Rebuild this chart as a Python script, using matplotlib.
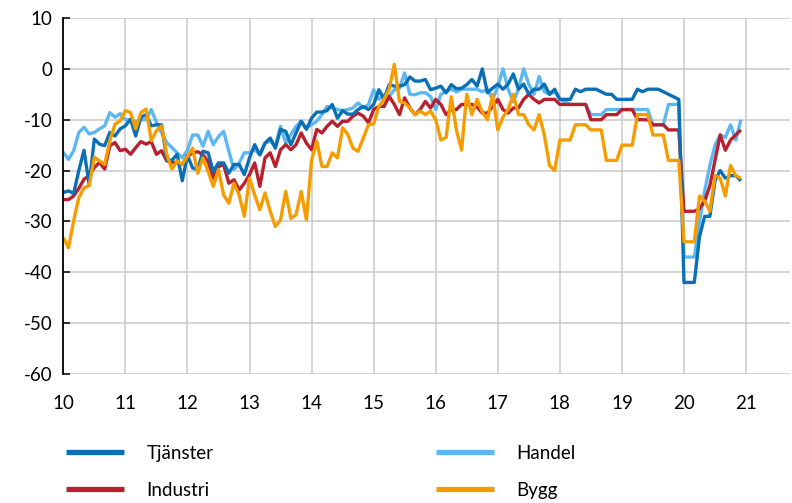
import matplotlib
matplotlib.use("Agg")
import matplotlib.pyplot as plt
import numpy as np

plt.rcParams['font.family'] = ['Lato', 'DejaVu Sans']

# Monthly values, Jan 2010 - Dec 2020
tjanster = [
    -24.3, -24, -24.5, -20, -16, -22.7, -13.8, -14.8, -15.1, -12.5, -13.2, -11.8,
    -11.2, -9.9, -13.2, -9.5, -9, -11.2, -11, -11, -17.8, -18, -16.8, -22,
    -17, -19.5, -19.8, -16.2, -16.5, -20.2, -18.5, -18.5, -20.5, -18.8, -18.8, -20.8,
    -17.5, -14.9, -16.9, -14.6, -13.6, -15.6, -11.9, -12.3, -14.9, -12.6, -10.3, -11.9,
    -9.7, -8.5, -8.5, -8.2, -7, -9.7, -8.2, -8.9, -8.9, -8, -7.4, -8,
    -7, -4.1, -6, -3.1, -3.4, -3.4, -3.1, -1.6, -2.4, -2.4, -2.1, -4.1,
    -3.8, -3.4, -4.7, -3.1, -3.9, -3.8, -3.1, -2.1, -3.4, 0, -4.7, -3.8,
    -3, -4, -3, -1, -4, -3, -5, -4, -4, -3, -5, -4,
    -6, -6, -6, -4, -4.5, -4, -4, -4, -4.5, -5, -5, -6,
    -6, -6, -6, -4, -4.5, -4, -4, -4, -4.5, -5, -5.5, -6,
    -42, -42, -42, -33, -29, -29, -22, -20, -21.5, -21, -21, -22,
]
handel = [
    -16.4, -17.8, -16.1, -12.5, -11.5, -12.8, -12.5, -11.8, -11.2, -8.6, -9.5, -8.8,
    -10, -10, -10.5, -10, -10, -8, -10.5, -12.5, -14.5, -15.5, -16.5, -17.5,
    -16, -13, -13, -15.2, -12.3, -14.9, -13.3, -12.3, -16.2, -19.8, -18.5, -16.5,
    -16.5, -15.9, -16.9, -14.6, -14.2, -15.2, -11.3, -14.6, -12.9, -11.3, -10.3, -11.6,
    -11, -10.3, -9, -7.4, -7.7, -8, -8.2, -8, -7.7, -6.7, -7.7, -7,
    -4.1, -6, -5.1, -5.4, -4.1, -3.8, -0.8, -5, -5.1, -4.7, -4.7, -5.4,
    -8, -5, -4.5, -4, -4.5, -4, -4, -4, -4, -4.5, -4, -6,
    -3.5, 0, -4, -6.5, -4, 0, -3, -5, -1.5, -4.5, -5, -4.5,
    -6, -6.5, -7, -7, -7, -7, -9, -9, -9, -8, -8, -8,
    -8, -8, -8, -8, -8, -8, -11, -11, -11, -7, -7, -7,
    -37, -37, -37, -30, -24, -19, -15, -13, -13.5, -11, -14, -10,
]
industri = [
    -25.7, -25.7, -25, -23.5, -21.7, -21, -19.4, -18.4, -19.7, -15.1, -14.5, -16.1,
    -15.8, -16.8, -15.5, -14.3, -14.8, -14.3, -16.8, -16.1, -18.1, -18.4, -18.4, -18.8,
    -17.2, -16.5, -16.3, -16.9, -18.2, -21.5, -19.2, -18.8, -22.5, -21.8, -23.8, -22.5,
    -20.8, -18.5, -23.1, -17.5, -16.5, -19.2, -15.9, -14.9, -15.9, -14.9, -12.6, -14.6,
    -15.9, -11.9, -12.6, -11.3, -10.3, -11.3, -10.3, -10.3, -9.3, -8.7, -9.3, -10.6,
    -8, -7.4, -7.4, -5.4, -7, -9, -5.7, -7.7, -9, -8, -6.4, -7.7,
    -6, -7, -9, -8, -8, -7, -7, -7, -7.5, -8.7, -8.7, -7.4,
    -6, -8, -8.7, -7.7, -7.7, -6, -5, -6, -6.7, -6, -6, -6,
    -7, -7, -7, -7, -7, -7, -10, -10, -10, -9, -9, -9,
    -8, -8, -8, -10, -10, -10, -11, -11, -11, -12, -12, -12,
    -28, -28, -28, -27.5, -26, -23, -18, -13, -16, -14, -13, -12,
]
bygg = [
    -33.2, -35.2, -29.9, -25.3, -23.4, -23, -17.4, -18.1, -18.8, -14.1, -10.9, -10.2,
    -8.2, -8.6, -11.8, -8.6, -7.9, -14.1, -12.2, -11.2, -16.8, -19.7, -18.1, -18.8,
    -17.2, -15.6, -20.5, -17.5, -20.2, -23.1, -19.8, -24.8, -26.4, -22.5, -24.8, -29,
    -21.5, -24.8, -27.7, -24.4, -28, -31, -29.7, -24.1, -29.4, -28.7, -24.1, -29.7,
    -18, -14.2, -19.2, -19.2, -16.5, -17.5, -11.6, -12.9, -15.6, -16.2, -13.6, -11,
    -10.8, -7.4, -6, -4, 0.9, -6.4, -6.7, -7.7, -9, -8.3, -9, -8.3,
    -10, -14, -13.5, -5.5, -12, -16, -5, -9, -6, -8.5, -10, -5,
    -12, -9.5, -8, -5, -9, -9, -11, -12, -9, -13, -19, -20,
    -14, -14, -14, -11, -11, -11, -12, -12, -12, -18, -18, -18,
    -15, -15, -15, -9, -9, -9, -13, -13, -13, -18, -18, -18,
    -34, -34, -34, -25, -26, -28, -21, -21.5, -25, -19, -21, -21.5,
]

labels = ["Tjänster", "Handel", "Industri", "Bygg"]
colors = ["#0a6fb4", "#5cb7f2", "#b8202f", "#f59d00"]
xtick_labels = ["10", "11", "12", "13", "14", "15", "16", "17", "18", "19", "20", "21"]
ytick_values = [10, 0, -10, -20, -30, -40, -50, -60]

n = len(tjanster)
x = 10 + np.arange(n) / 12.0

fig = plt.figure(figsize=(7.92, 5.03), dpi=100)
ax = fig.add_axes([63.3 / 792, 1 - 374 / 503, (789.5 - 63.3) / 792, (374 - 18) / 503])

series = [tjanster, handel, industri, bygg]
zorders = [5, 3, 4, 6]
lines = []
for s, c, lab, z in zip(series, colors, labels, zorders):
    ln, = ax.plot(x, s, color=c, lw=2.4, label=lab, zorder=z,
                  solid_joinstyle='round', solid_capstyle='butt')
    lines.append(ln)

ax.set_xlim(10, 21.7)
ax.set_ylim(-60, 10)
ax.set_xticks(np.arange(10, 22))
ax.set_xticklabels(xtick_labels)
ax.set_yticks(ytick_values)
ax.set_yticklabels([str(v) for v in ytick_values])

ax.grid(True, color='#c9c9c9', lw=1.1, zorder=0)
ax.set_axisbelow(True)
for sp in ['top', 'right', 'bottom']:
    ax.spines[sp].set_visible(False)
ax.spines['left'].set_color('black')
ax.spines['left'].set_linewidth(1.3)
ax.spines['left'].set_zorder(7)

ax.tick_params(axis='y', direction='in', length=5, width=1.1, color='black',
               labelsize=13.5, pad=8)
ax.tick_params(axis='x', length=0, labelsize=13.5, pad=15)

lw_leg = 3.8
leg_kw = dict(loc='upper left', frameon=False, fontsize=13.5, handlelength=3.1,
              handletextpad=1.2, labelspacing=1.05, borderpad=0, borderaxespad=0)
leg1 = fig.legend([lines[0], lines[2]], [labels[0], labels[2]],
                  bbox_to_anchor=(65.8 / 792, 1 - 445 / 503), **leg_kw)
leg2 = fig.legend([lines[1], lines[3]], [labels[1], labels[3]],
                  bbox_to_anchor=(436 / 792, 1 - 445 / 503), **leg_kw)
for leg in (leg1, leg2):
    for h in leg.legend_handles:
        h.set_linewidth(lw_leg)

fig.savefig("out.png", dpi=100)
